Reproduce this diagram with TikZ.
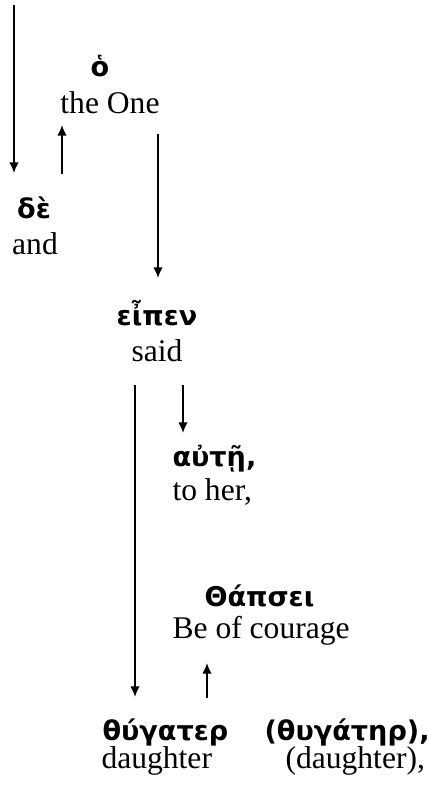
\documentclass[tikz,border=0pt]{standalone}
\usepackage{fontspec}
\setmainfont{Liberation Serif}
\newfontfamily\grk{DejaVu Sans}
\usetikzlibrary{arrows.meta}
\begin{document}
\begin{tikzpicture}[x=0.38pt,y=-0.38pt,
  en/.style={font=\fontsize{12}{14}\selectfont, inner sep=0pt},
  gr/.style={font=\grk\bfseries\fontsize{10.3}{12}\selectfont, inner sep=0pt},
  arr/.style={-{Latex[length=4pt,width=3.6pt]}, line width=0.65pt}]
\useasboundingbox (0,0) rectangle (427,798);
% words
\node[gr, anchor=base] (o) at (100,77) {ὁ};
\node[en, anchor=base] (one) at (110,114) {the One};
\node[gr, anchor=base] (de) at (34,218) {δὲ};
\node[en, anchor=base] (and) at (35,254) {and};
\node[gr, anchor=base] (eipen) at (157,325) {εἶπεν};
\node[en, anchor=base] (said) at (157,361) {said};
\node[gr, anchor=base west] (aute) at (172,466) {αὐτῇ,};
\node[en, anchor=base west] (toher) at (172,500) {to her,};
\node[gr, anchor=base west] (tharsei) at (204,606) {Θάπσει};
\node[en, anchor=base west] (courage) at (172,638) {Be of courage};
\node[gr, anchor=base west] (thugater) at (102,740) {θύγατερ};
\node[gr, anchor=base west] (thugater2) at (264,740) {(θυγάτηρ),};
\node[en, anchor=base west] (daughter) at (101,768) {daughter};
\node[en, anchor=base west] (daughter2) at (285,768) {(daughter),};
% arrow end points
\coordinate (a1s) at (14,5);   \coordinate (a1e) at (14,173);
\coordinate (a2s) at (62,174); \coordinate (a2e) at (62,125);
\coordinate (a3s) at (158,134); \coordinate (a3e) at (158,278);
\coordinate (a4s) at (135,385); \coordinate (a4e) at (135,697);
\coordinate (a5s) at (183,385); \coordinate (a5e) at (183,433);
\coordinate (a6s) at (207,698); \coordinate (a6e) at (207,663);
\draw[arr] (a1s) -- (a1e);
\draw[arr] (a2s) -- (a2e);
\draw[arr] (a3s) -- (a3e);
\draw[arr] (a4s) -- (a4e);
\draw[arr] (a5s) -- (a5e);
\draw[arr] (a6s) -- (a6e);
\end{tikzpicture}
\end{document}
